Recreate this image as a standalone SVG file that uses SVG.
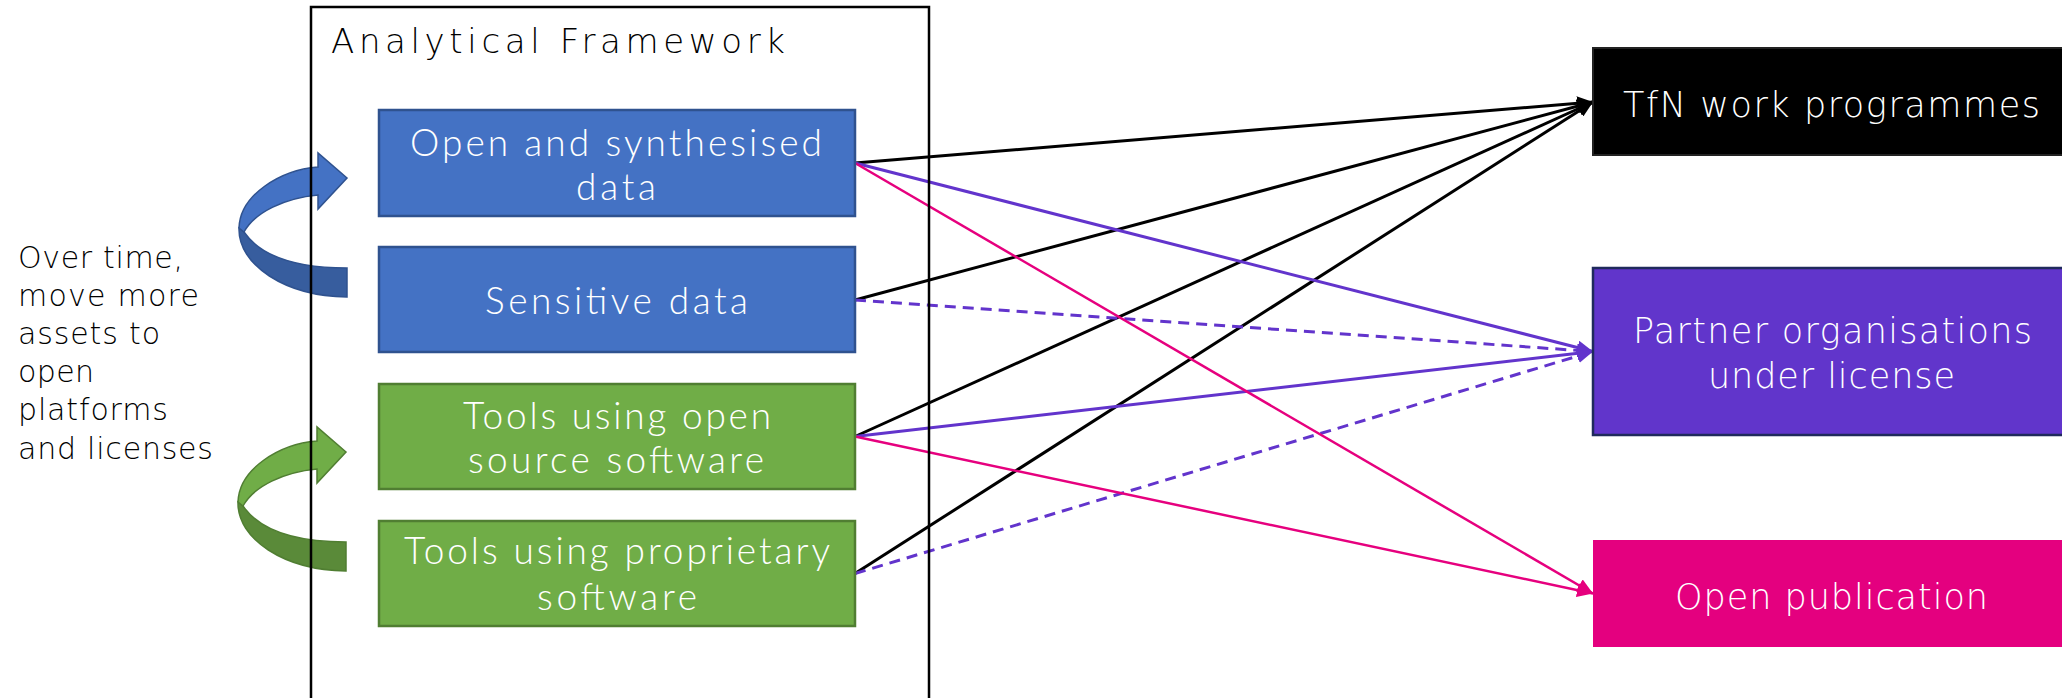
<svg xmlns="http://www.w3.org/2000/svg" width="2062" height="698" viewBox="0 0 2062 698">
<style>
text{font-family:"DejaVu Sans","Liberation Sans",sans-serif;font-weight:200}
.bt{fill:#ffffff;font-family:Lato,"Liberation Sans",sans-serif;font-weight:300;font-size:37px}
.rt{fill:#ffffff;font-size:35px}
.lt{fill:#000000;font-size:30px}
.blue{fill:#4472C4;stroke:#2F528F;stroke-width:2.5}
.green{fill:#70AD47;stroke:#507E32;stroke-width:2.5}
.k{stroke:#000000;stroke-width:3;fill:none}
.p{stroke:#6234CC;stroke-width:3;fill:none}
.pd{stroke:#6234CC;stroke-width:3;fill:none;stroke-dasharray:11 7}
.m{stroke:#E6007E;stroke-width:2.5;fill:none}
</style>
<defs>
<marker id="ak" markerUnits="userSpaceOnUse" markerWidth="16" markerHeight="14" refX="16" refY="7" orient="auto"><path d="M0,0 L16,7 L0,14 Z" fill="#000000"/></marker>
<marker id="ap" markerUnits="userSpaceOnUse" markerWidth="16" markerHeight="14" refX="16" refY="7" orient="auto"><path d="M0,0 L16,7 L0,14 Z" fill="#6234CC"/></marker>
<marker id="am" markerUnits="userSpaceOnUse" markerWidth="16" markerHeight="14" refX="16" refY="7" orient="auto"><path d="M0,0 L16,7 L0,14 Z" fill="#E6007E"/></marker>
</defs>
<rect width="2062" height="698" fill="#ffffff"/>

<g id="curved-arrow-blue">
<path d="M239,228 C238,265 285,296 347,297 L347,268 C300,268 262,258 244,232 Z" fill="#375D9E" stroke="#2F528F" stroke-width="1.5"/>
<path d="M239,228 C240,195 280,170 318,167 L318,153 L347,178 L318,209 L318,195 C285,198 255,212 244,232 Z" fill="#4472C4" stroke="#2F528F" stroke-width="1.5"/>
</g>
<g id="curved-arrow-green">
<path d="M238,502 C237,539 284,570 346,571 L346,542 C299,542 261,532 243,506 Z" fill="#5A8A39" stroke="#507E32" stroke-width="1.5"/>
<path d="M238,502 C239,469 279,444 317,441 L317,427 L346,452 L317,483 L317,469 C284,472 254,486 243,506 Z" fill="#70AD47" stroke="#507E32" stroke-width="1.5"/>
</g>

<g id="note">
<text class="lt" x="18" y="268" textLength="165">Over time,</text>
<text class="lt" x="18" y="306" textLength="181">move more</text>
<text class="lt" x="18" y="344" textLength="142">assets to</text>
<text class="lt" x="18" y="382" textLength="76">open</text>
<text class="lt" x="18" y="420" textLength="150">platforms</text>
<text class="lt" x="18" y="459" textLength="195">and licenses</text>
</g>

<g id="connectors">
<line class="k" x1="855" y1="163" x2="1593" y2="102" marker-end="url(#ak)"/>
<line class="k" x1="855" y1="300" x2="1593" y2="102" marker-end="url(#ak)"/>
<line class="k" x1="855" y1="436.5" x2="1593" y2="102" marker-end="url(#ak)"/>
<line class="k" x1="855" y1="573.5" x2="1593" y2="102" marker-end="url(#ak)"/>
<line class="p" x1="855" y1="163" x2="1593" y2="351.5" marker-end="url(#ap)"/>
<line class="p" x1="855" y1="436.5" x2="1593" y2="351.5" marker-end="url(#ap)"/>
<line class="pd" x1="855" y1="300" x2="1593" y2="351.5" marker-end="url(#ap)"/>
<line class="pd" x1="855" y1="573.5" x2="1593" y2="351.5" marker-end="url(#ap)"/>
<line class="m" x1="855" y1="163" x2="1593" y2="593.5" marker-end="url(#am)"/>
<line class="m" x1="855" y1="436.5" x2="1593" y2="593.5" marker-end="url(#am)"/>
</g>

<g id="analytical-framework">
<rect x="311" y="7" width="618" height="720" fill="none" stroke="#000000" stroke-width="2.5"/>
<text x="331" y="53" font-size="34" fill="#000000" textLength="454">Analytical Framework</text>
</g>

<g id="open-synthesised-data">
<rect class="blue" x="379" y="110" width="476" height="106"/>
<text class="bt" x="410" y="156" textLength="412">Open and synthesised</text>
<text class="bt" x="576" y="200" textLength="80">data</text>
</g>
<g id="sensitive-data">
<rect class="blue" x="379" y="247" width="476" height="105"/>
<text class="bt" x="485" y="314" textLength="263">Sensitive data</text>
</g>
<g id="tools-open-source">
<rect class="green" x="379" y="384" width="476" height="105"/>
<text class="bt" x="463" y="429" textLength="308">Tools using open</text>
<text class="bt" x="468" y="473" textLength="296">source software</text>
</g>
<g id="tools-proprietary">
<rect class="green" x="379" y="521" width="476" height="105"/>
<text class="bt" x="404" y="564" textLength="426">Tools using proprietary</text>
<text class="bt" x="537" y="610" textLength="160">software</text>
</g>

<g id="tfn-work-programmes">
<rect x="1593" y="48" width="476" height="107" fill="#000000" stroke="#222222" stroke-width="2"/>
<text class="rt" x="1623" y="117" textLength="417">TfN work programmes</text>
</g>
<g id="partner-organisations">
<rect x="1593" y="268" width="476" height="167" fill="#6135CB" stroke="#1F2A5C" stroke-width="2.5"/>
<text class="rt" x="1633" y="343" textLength="399">Partner organisations</text>
<text class="rt" x="1708" y="388" textLength="247">under license</text>
</g>
<g id="open-publication">
<rect x="1593" y="540" width="476" height="107" fill="#E4007F"/>
<text class="rt" x="1675" y="609" textLength="313">Open publication</text>
</g>
</svg>
